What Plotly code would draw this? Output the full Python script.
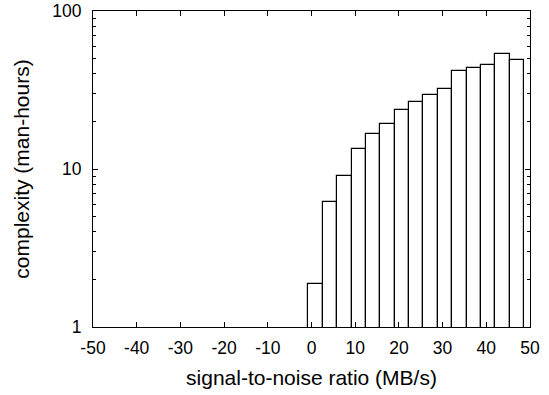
import plotly.graph_objects as go

# bar centres (MB/s) and heights (man-hours)
snr_centres = [0.95, 4.24, 7.53, 10.82, 14.11, 17.40, 20.69, 23.98, 27.27, 30.56, 33.85, 37.14, 40.43, 43.72, 47.01]
complexity = [1.88, 6.15, 9.05, 13.4, 16.6, 19.4, 23.6, 26.7, 29.6, 32.3, 41.8, 43.5, 45.6, 53.1, 48.9]
bar_width = 3.29

x_ticks = [-50, -40, -30, -20, -10, 0, 10, 20, 30, 40, 50]
y_ticks = [1, 10, 100]

font_family = "Liberation Sans, Arial, Helvetica, sans-serif"

fig = go.Figure()
fig.add_trace(go.Bar(
    x=snr_centres, y=complexity, width=bar_width,
    marker=dict(color="white", line=dict(color="black", width=1.2)),
    showlegend=False,
))

fig.update_layout(
    width=549, height=395,
    margin=dict(l=93, r=19, t=11, b=68, autoexpand=False),
    paper_bgcolor="white", plot_bgcolor="white",
    font=dict(family=font_family, size=17.5, color="black"),
    bargap=0,
)
fig.update_xaxes(
    range=[-50, 50], tickvals=x_ticks, ticktext=[str(v) for v in x_ticks],
    ticks="inside", ticklen=5, tickwidth=1, tickcolor="black",
    ticklabelstandoff=5,
    showline=True, linecolor="black", linewidth=1.2, mirror="ticks",
    showgrid=False, zeroline=False, automargin=False,
    title=dict(text="signal-to-noise ratio (MB/s)", standoff=13),
)
fig.update_yaxes(
    type="log", range=[0, 2], tickvals=y_ticks, ticktext=[str(v) for v in y_ticks],
    ticks="inside", ticklen=5, tickwidth=1, tickcolor="black",
    ticklabelstandoff=7,
    minor=dict(ticks="inside", ticklen=3, tickwidth=1, tickcolor="black", dtick="D1", showgrid=False),
    showline=True, linecolor="black", linewidth=1.2, mirror="ticks",
    showgrid=False, zeroline=False, automargin=False,
    title=dict(text="complexity (man-hours)", standoff=16),
)

fig.write_html("out.html", config={"displayModeBar": False},
               post_script="document.body.style.margin='0';")
